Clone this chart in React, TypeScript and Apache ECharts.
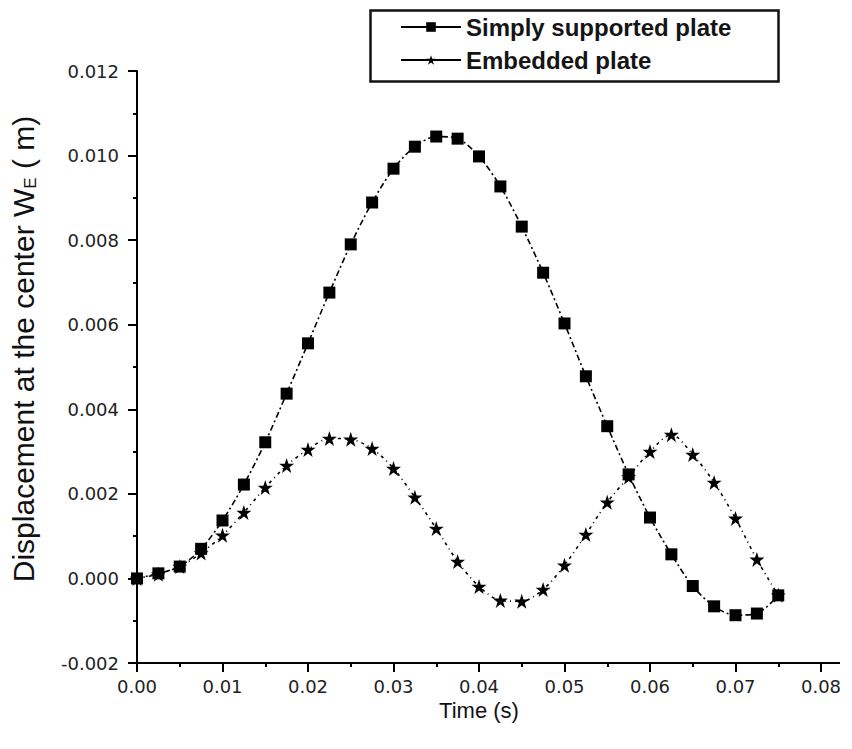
import React, { useEffect, useRef } from "react";
import * as echarts from "echarts";

const timeValues = [
  0, 0.0025, 0.005, 0.0075, 0.01, 0.0125, 0.015, 0.0175, 0.02, 0.0225, 0.025,
  0.0275, 0.03, 0.0325, 0.035, 0.0375, 0.04, 0.0425, 0.045, 0.0475, 0.05,
  0.0525, 0.055, 0.0575, 0.06, 0.0625, 0.065, 0.0675, 0.07, 0.0725, 0.075,
];

const simplySupported = [
  0, 0.00012, 0.00028, 0.0007, 0.00137, 0.00222, 0.00322, 0.00437, 0.00556,
  0.00676, 0.0079, 0.00889, 0.00969, 0.01021, 0.01045, 0.0104, 0.00998,
  0.00927, 0.00832, 0.00723, 0.00603, 0.00478, 0.0036, 0.00246, 0.00144,
  0.00057, -0.00018, -0.00066, -0.00087, -0.00083, -0.0004,
];

const embedded = [
  0, 0.0001, 0.00028, 0.0006, 0.00102, 0.00156, 0.00215, 0.00267, 0.00305,
  0.00331, 0.00329, 0.00307, 0.0026, 0.00192, 0.00118, 0.0004, -0.00019,
  -0.00052, -0.00054, -0.00026, 0.00031, 0.00104, 0.0018, 0.0024, 0.003,
  0.0034, 0.00293, 0.00227, 0.00142, 0.00045, -0.0004,
];

const seriesNames = ["Simply supported plate", "Embedded plate"];

const STAR =
  "path://M50,0 L61.8,35.1 L98.9,35.1 L68.9,57 L80.3,92.3 L50,70.5 L19.7,92.3 L31.1,57 L1.1,35.1 L38.2,35.1 Z";

export default function App() {
  const ref = useRef<HTMLDivElement>(null);

  useEffect(() => {
    if (!ref.current) return;
    const chart = echarts.init(ref.current, undefined, { renderer: "svg" });
    const axisColor = "#000";
    const labelFont = {
      fontFamily: "DejaVu Sans",
      fontSize: 18,
      color: "#222",
    };
    const option: any = {
      animation: false,
      backgroundColor: "#fff",
      grid: {
        left: 137,
        right: 31,
        top: 71,
        bottom: 86,
        containLabel: false,
        outerBoundsMode: "none",
      },
      legend: {
        orient: "vertical",
        left: 368,
        top: 8,
        padding: [7, 0, 0, 32],
        itemWidth: 60,
        itemHeight: 12,
        itemGap: 9,
        data: seriesNames,
        lineStyle: { type: "solid", width: 2, color: "#000" },
        textStyle: {
          fontFamily: "Liberation Sans",
          fontWeight: "bold",
          fontSize: 24,
          color: "#151515",
        },
      },
      xAxis: {
        type: "value",
        min: 0,
        max: 0.08,
        interval: 0.01,
        name: "Time (s)",
        nameLocation: "middle",
        nameGap: 36,
        nameMoveOverlap: false,
        nameTextStyle: {
          fontFamily: "Liberation Sans",
          fontSize: 22,
          color: "#111",
        },
        axisLine: { onZero: false, lineStyle: { color: axisColor, width: 2 } },
        axisTick: { length: 9, lineStyle: { color: axisColor, width: 2 } },
        minorTick: {
          show: true,
          splitNumber: 2,
          length: 4,
          lineStyle: { color: axisColor, width: 2 },
        },
        splitLine: { show: false },
        minorSplitLine: { show: false },
        axisLabel: {
          ...labelFont,
          margin: 14,
          formatter: (v: number) => v.toFixed(2),
        },
      },
      yAxis: {
        type: "value",
        min: -0.002,
        max: 0.012,
        interval: 0.002,
        name: "Displacement at the center W{sub|E} ( m)",
        nameLocation: "middle",
        nameGap: 98,
        nameMoveOverlap: false,
        nameTextStyle: {
          fontFamily: "Liberation Sans",
          fontSize: 30,
          color: "#111",
          padding: [0, 0, 0, 36],
          rich: {
            sub: {
              fontFamily: "Liberation Sans",
              fontSize: 17,
              color: "#111",
              verticalAlign: "bottom",
              padding: [14, 0, 0, 0],
            },
          },
        },
        axisLine: { onZero: false, lineStyle: { color: axisColor, width: 2 } },
        axisTick: { length: 9, lineStyle: { color: axisColor, width: 2 } },
        minorTick: {
          show: true,
          splitNumber: 2,
          length: 4,
          lineStyle: { color: axisColor, width: 2 },
        },
        splitLine: { show: false },
        minorSplitLine: { show: false },
        axisLabel: {
          ...labelFont,
          margin: 18,
          formatter: (v: number) => v.toFixed(3),
        },
      },
      graphic: [
        {
          type: "rect",
          left: 368,
          top: 8,
          z: 0,
          shape: { width: 408, height: 71 },
          style: { fill: "none", stroke: "#111", lineWidth: 2.5 },
        },
        {
          type: "line",
          shape: { x1: 821, y1: 663, x2: 840, y2: 663 },
          style: { stroke: "#000", lineWidth: 2 },
        },
      ],
      series: [
        {
          name: seriesNames[1],
          type: "line",
          data: timeValues.map((t, i) => [t, embedded[i]]),
          symbol: STAR,
          symbolSize: 15,
          smooth: 0.3,
          itemStyle: { color: "#000" },
          lineStyle: { color: "#000", width: 1.6, type: [3, 4, 1, 4] },
          z: 2,
        },
        {
          name: seriesNames[0],
          type: "line",
          data: timeValues.map((t, i) => [t, simplySupported[i]]),
          symbol: "rect",
          symbolSize: 12,
          smooth: 0.3,
          itemStyle: { color: "#000" },
          lineStyle: { color: "#000", width: 1.6, type: [6, 3, 2, 3] },
          z: 3,
        },
      ],
    };
    chart.setOption(option);
    return () => chart.dispose();
  }, []);

  return (
    <div
      ref={ref}
      style={{ position: "fixed", left: 0, top: 0, width: 852, height: 749 }}
    />
  );
}
